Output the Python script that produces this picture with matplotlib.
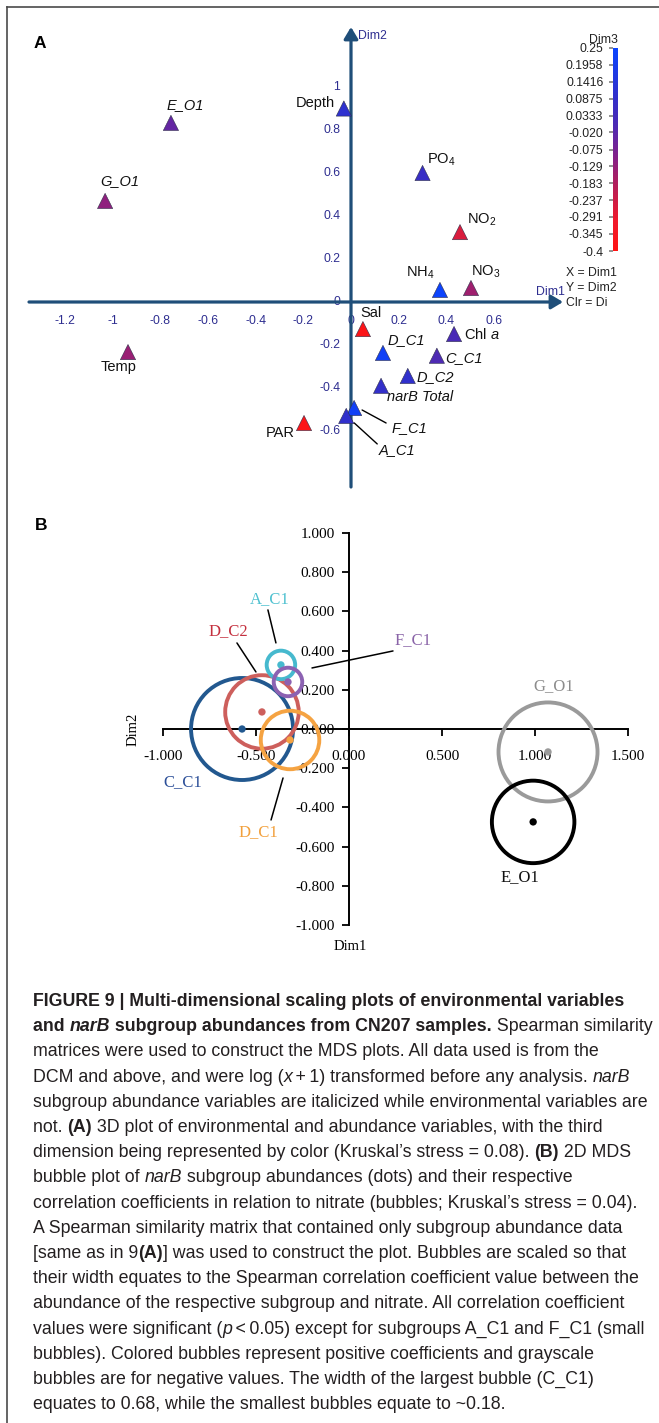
import numpy as np
import matplotlib.pyplot as plt
import matplotlib.font_manager as fm
from matplotlib.colors import LinearSegmentedColormap, Normalize
from matplotlib.cm import ScalarMappable
from matplotlib.lines import Line2D
from matplotlib.transforms import offset_copy

# ---------------- data ----------------
# (A) 3D MDS: environmental variables and narB subgroups
a_labels = ['E_O1', 'G_O1', 'Depth', 'PO$_4$', 'NO$_2$', 'NH$_4$', 'NO$_3$', 'Sal', 'Chl $a$',
            'D_C1', 'C_C1', 'D_C2', 'narB Total', 'F_C1', 'A_C1', 'Temp', 'PAR']
a_italic = [True, True, False, False, False, False, False, False, False,
            True, True, True, True, True, True, False, False]
a_dim1 = [-0.755, -1.031, -0.030, 0.300, 0.457, 0.373, 0.503, 0.050, 0.432,
          0.134, 0.360, 0.238, 0.126, 0.013, -0.020, -0.935, -0.197]
a_dim2 = [0.833, 0.470, 0.900, 0.600, 0.325, 0.056, 0.065, -0.126, -0.149,
          -0.237, -0.250, -0.344, -0.390, -0.493, -0.530, -0.233, -0.563]
a_dim3 = [-0.04, -0.12, 0.11, 0.07, -0.26, 0.24, -0.15, -0.38, 0.01,
          0.22, 0.00, 0.10, 0.09, 0.22, 0.10, -0.14, -0.38]

a_xticks = [-1.2, -1.0, -0.8, -0.6, -0.4, -0.2, 0.0, 0.2, 0.4, 0.6]
a_xticklabels = ['-1.2', '-1', '-0.8', '-0.6', '-0.4', '-0.2', '0', '0.2', '0.4', '0.6']
a_yticks = [-0.6, -0.4, -0.2, 0.0, 0.2, 0.4, 0.6, 0.8, 1.0]
a_yticklabels = ['-0.6', '-0.4', '-0.2', '0', '0.2', '0.4', '0.6', '0.8', '1']

cb_ticks = [0.25, 0.1958, 0.1416, 0.0875, 0.0333, -0.020, -0.075, -0.129,
            -0.183, -0.237, -0.291, -0.345, -0.4]
cb_ticklabels = ['0.25', '0.1958', '0.1416', '0.0875', '0.0333', '-0.020', '-0.075',
                 '-0.129', '-0.183', '-0.237', '-0.291', '-0.345', '-0.4']

# (B) 2D MDS bubble plot, bubble width = Spearman r with nitrate
b_labels = ['C_C1', 'D_C2', 'D_C1', 'A_C1', 'F_C1', 'G_O1', 'E_O1']
b_dim1 = [-0.575, -0.468, -0.317, -0.366, -0.328, 1.070, 0.990]
b_dim2 = [0.000, 0.087, -0.056, 0.327, 0.240, -0.117, -0.474]
b_coef = [0.68, 0.49, 0.39, 0.19, 0.19, -0.66, -0.55]

b_xticks = [-1.0, -0.5, 0.0, 0.5, 1.0, 1.5]
b_xticklabels = ['-1.000', '-0.500', '0.000', '0.500', '1.000', '1.500']
b_yticks = [-1.0, -0.8, -0.6, -0.4, -0.2, 0.0, 0.2, 0.4, 0.6, 0.8, 1.0]
b_yticklabels = ['-1.000', '-0.800', '-0.600', '-0.400', '-0.200', '0.000',
                 '0.200', '0.400', '0.600', '0.800', '1.000']

caption = [
    [("FIGURE 9 | Multi-dimensional scaling plots of environmental variables", 'b')],
    [("and ", 'b'), ("narB", 'bi'), (" subgroup abundances from CN207 samples.", 'b'),
     (" Spearman similarity", 'r')],
    [("matrices were used to construct the MDS plots. All data used is from the", 'r')],
    [("DCM and above, and were log (", 'r'), ("x", 'i'),
     ("\u2009+\u20091) transformed before any analysis. ", 'r'), ("narB", 'i')],
    [("subgroup abundance variables are italicized while environmental variables are", 'r')],
    [("not. ", 'r'), ("(A)", 'b'), (" 3D plot of environmental and abundance variables, with the third", 'r')],
    [("dimension being represented by color (Kruskal\u2019s stress = 0.08). ", 'r'), ("(B)", 'b'),
     (" 2D MDS", 'r')],
    [("bubble plot of ", 'r'), ("narB", 'i'), (" subgroup abundances (dots) and their respective", 'r')],
    [("correlation coefficients in relation to nitrate (bubbles; Kruskal\u2019s stress = 0.04).", 'r')],
    [("A Spearman similarity matrix that contained only subgroup abundance data", 'r')],
    [("[same as in 9", 'r'), ("(A)", 'b'), ("] was used to construct the plot. Bubbles are scaled so that", 'r')],
    [("their width equates to the Spearman correlation coefficient value between the", 'r')],
    [("abundance of the respective subgroup and nitrate. All correlation coefficient", 'r')],
    [("values were significant (", 'r'), ("p", 'i'),
     ("\u2009<\u20090.05) except for subgroups A_C1 and F_C1 (small", 'r')],
    [("bubbles). Colored bubbles represent positive coefficients and grayscale", 'r')],
    [("bubbles are for negative values. The width of the largest bubble (C_C1)", 'r')],
    [("equates to 0.68, while the smallest bubbles equate to ~0.18.", 'r')],
]

# ---------------- figure ----------------
W, H = 659, 1423
plt.rcParams['font.family'] = ['Liberation Sans', 'DejaVu Sans']
plt.rcParams['mathtext.fontset'] = 'custom'
plt.rcParams['mathtext.rm'] = 'Liberation Sans'
plt.rcParams['mathtext.it'] = 'Liberation Sans:italic'
plt.rcParams['mathtext.bf'] = 'Liberation Sans:bold'

fig = plt.figure(figsize=(W / 100, H / 100), dpi=100)
fig.patch.set_facecolor('white')


def px_axes(x0, y0, x1, y1):
    return fig.add_axes([x0 / W, 1 - y1 / H, (x1 - x0) / W, (y1 - y0) / H])


def leader(ax, x, y, p0, p1, color='black', lw=1.0):
    # straight line between two pixel offsets from a data point
    t0 = offset_copy(ax.transData, x=p0[0], y=-p0[1], units='dots')
    t1 = offset_copy(ax.transData, x=p1[0], y=-p1[1], units='dots')
    ax.annotate('', xy=(x, y), xycoords=t1, xytext=(x, y), textcoords=t0,
                arrowprops=dict(arrowstyle='-', color=color, lw=lw, shrinkA=0, shrinkB=0))


# outer frame
frame_kw = dict(color='#4a4a4a', lw=1.2, transform=fig.transFigure)
fig.add_artist(Line2D([7 / W, 7 / W], [0, 1 - 7 / H], **frame_kw))
fig.add_artist(Line2D([7 / W, 1], [1 - 7 / H, 1 - 7 / H], **frame_kw))

fig.text(40 / W, 1 - 43 / H, 'A', fontsize=12.5, weight='bold', ha='center', va='center')
fig.text(41 / W, 1 - 526 / H, 'B', fontsize=12.5, weight='bold', ha='center', va='center')

# ---------------- panel A ----------------
axA = px_axes(20, 20, 652, 495)
sx, sy = 238.5, 215.0          # pixels per data unit
ox, oy = 351, 302               # pixel position of the origin
axA.set_xlim((20 - ox) / sx, (652 - ox) / sx)
axA.set_ylim((oy - 495) / sy, (oy - 20) / sy)
axA.axis('off')

dim3_cmap = LinearSegmentedColormap.from_list(
    'dim3', [(0.0, '#ff1414'), (0.15, '#f01a2c'), (0.31, '#b81e55'),
             (0.46, '#852088'), (0.62, '#4c2ab4'), (0.77, '#3030cc'), (1.0, '#0a44ff')])
dim3_norm = Normalize(-0.4, 0.25)

axis_col = '#1f4e79'
tick_col = '#2e2e90'
arrow = dict(arrowstyle='-|>,head_length=0.5,head_width=0.3', color=axis_col, lw=2.3,
             mutation_scale=14, shrinkA=0, shrinkB=0)
axA.annotate('', xy=((563 - ox) / sx, 0), xytext=((29 - ox) / sx, 0), arrowprops=arrow, zorder=2)
axA.annotate('', xy=(0, (oy - 27) / sy), xytext=(0, (oy - 487) / sy), arrowprops=arrow, zorder=2)

for v, lab in zip(a_xticks, a_xticklabels):
    axA.annotate(lab, xy=(v, 0), xytext=(0, -19), textcoords='offset pixels',
                 ha='center', va='center', fontsize=8.8, color=tick_col, zorder=1)
for v, lab in zip(a_yticks, a_yticklabels):
    axA.annotate(lab, xy=(0, v), xytext=(-11, 0), textcoords='offset pixels',
                 ha='right', va='center', fontsize=8.8, color=tick_col, zorder=1)

axA.annotate('Dim2', xy=(0, (oy - 27) / sy), xytext=(7, -9), textcoords='offset pixels',
             ha='left', va='center', fontsize=8.8, color=tick_col)
axA.annotate('Dim1', xy=((563 - ox) / sx, 0), xytext=(-27, 10), textcoords='offset pixels',
             ha='left', va='center', fontsize=8.8, color=tick_col)

axA.scatter(a_dim1, a_dim2, c=a_dim3, cmap=dim3_cmap, norm=dim3_norm, marker='^', s=120,
            edgecolors='#30304a', linewidths=0.4, zorder=4)

a_text_off = [(14, -18), (15, -20), (-9, -5), (4, -13), (7, -12), (-20, -17), (15, -16),
              (8, -16), (10, 0), (5, -13), (8, 2), (9, 1), (6, 11), (37, 20), (32, 34),
              (-9, 15), (-9, 10)]
a_ha = ['center', 'center', 'right', 'left', 'left', 'center', 'center', 'center', 'left',
        'left', 'left', 'left', 'left', 'left', 'left', 'center', 'right']
for i, lab in enumerate(a_labels):
    dx, dy = a_text_off[i]
    axA.annotate(lab, xy=(a_dim1[i], a_dim2[i]), xytext=(dx, -dy), textcoords='offset pixels',
                 ha=a_ha[i], va='center', fontsize=10.5, color='#111111',
                 style='italic' if a_italic[i] else 'normal', zorder=5)

i_f, i_a = a_labels.index('F_C1'), a_labels.index('A_C1')
leader(axA, a_dim1[i_f], a_dim2[i_f], (8, 2), (32, 15))
leader(axA, a_dim1[i_a], a_dim2[i_a], (8, 7), (31, 28))

fig.text(566 / W, 1 - 273 / H, 'X = Dim1', fontsize=8.8, va='center', color='#222222')
fig.text(566 / W, 1 - 288 / H, 'Y = Dim2', fontsize=8.8, va='center', color='#222222')
fig.text(566 / W, 1 - 303 / H, 'Clr = Di', fontsize=8.8, va='center', color='#222222')

# Dim3 colour scale
cax = px_axes(613, 48, 618, 251)
cb = fig.colorbar(ScalarMappable(norm=dim3_norm, cmap=dim3_cmap), cax=cax, ticks=cb_ticks)
cb.outline.set_visible(False)
cax.yaxis.set_ticks_position('left')
cb.ax.set_yticklabels(cb_ticklabels)
cax.tick_params(axis='y', length=3, width=1.3, color='#8a8a8a', pad=4,
                labelsize=8.8, labelcolor='#222222')
fig.text(603 / W, 1 - 40 / H, 'Dim3', fontsize=8.8, ha='center', va='center', color='#222222')

# ---------------- panel B ----------------
serif = ['Liberation Serif', 'DejaVu Serif']
axB = px_axes(100, 515, 650, 960)
bx, by = 186.0, 196.0
bo_x, bo_y = 349, 729
axB.set_xlim((100 - bo_x) / bx, (650 - bo_x) / bx)
axB.set_ylim((bo_y - 960) / by, (bo_y - 515) / by)
axB.set_facecolor('none')
for side in ('top', 'right'):
    axB.spines[side].set_visible(False)
axB.spines['left'].set_position(('data', 0))
axB.spines['bottom'].set_position(('data', 0))
axB.spines['left'].set_bounds(-1, 1)
axB.spines['bottom'].set_bounds(-1, 1.5)
for side in ('left', 'bottom'):
    axB.spines[side].set_linewidth(1.4)
axB.set_xticks(b_xticks)
axB.set_xticklabels(b_xticklabels, family=serif, fontsize=11)
axB.set_yticks(b_yticks)
axB.set_yticklabels(b_yticklabels, family=serif, fontsize=11)
axB.tick_params(axis='x', direction='out', length=5, width=1.3, pad=10, color='black')
axB.tick_params(axis='y', direction='out', length=5, width=1.3, pad=5, color='black')

b_colors = ['#22588f', '#cd5f5c', '#f5a342', '#46b9ce', '#8c62b2', '#9a9a9a', '#000000']
b_text_colors = ['#2c4f98', '#c4303e', '#f2a03c', '#4fc1d0', '#8a64a8', '#8c8c8c', '#111111']
px_per_r = 150.0  # bubble diameter in pixels per unit of correlation
for i in range(len(b_labels)):
    d_pt = abs(b_coef[i]) * px_per_r * 0.72
    axB.scatter(b_dim1[i], b_dim2[i], s=d_pt ** 2, facecolors='none',
                edgecolors=b_colors[i], linewidths=2.8, zorder=3 + i)
    axB.scatter(b_dim1[i], b_dim2[i], s=28, color=b_colors[i], edgecolors='none', zorder=3 + i)

b_text_off = [(-59, 53), (-34, -81), (-32, 92), (-11, -66), (125, -42), (6, -66), (-13, 55)]
for i, lab in enumerate(b_labels):
    dx, dy = b_text_off[i]
    axB.annotate(lab, xy=(b_dim1[i], b_dim2[i]), xytext=(dx, -dy), textcoords='offset pixels',
                 ha='center', va='center', fontsize=12, family=serif, color=b_text_colors[i])

b_leaders = {'A_C1': ((-13, -55), (-5, -22)), 'D_C2': ((-25, -69), (-6, -40)),
             'F_C1': ((105, -31), (24, -14)), 'D_C1': ((-7, 38), (-19, 80))}
for lab, (p0, p1) in b_leaders.items():
    i = b_labels.index(lab)
    leader(axB, b_dim1[i], b_dim2[i], p0, p1, lw=1.1)

fig.text(133 / W, 1 - 729 / H, 'Dim2', rotation=90, ha='center', va='center',
         family=serif, fontsize=10.5)
fig.text(350 / W, 1 - 947 / H, 'Dim1', ha='center', va='center', family=serif, fontsize=10.5)

# ---------------- caption ----------------
available = {f.name for f in fm.fontManager.ttflist}
cap_font = 'Liberation Sans Narrow' if 'Liberation Sans Narrow' in available else 'Liberation Sans'
cap_family = [cap_font, 'DejaVu Sans']
seg_style = {'r': dict(weight='normal', style='normal'),
             'b': dict(weight='bold', style='normal'),
             'i': dict(weight='normal', style='italic'),
             'bi': dict(weight='bold', style='italic')}
renderer = fig.canvas.get_renderer()


def text_width(s, size, st):
    # width including trailing spaces: measure against a bar glyph
    t1 = fig.text(0, 0, s + '|', fontsize=size, family=cap_family, **seg_style[st])
    t2 = fig.text(0, 0, '|', fontsize=size, family=cap_family, **seg_style[st])
    w = t1.get_window_extent(renderer).width - t2.get_window_extent(renderer).width
    t1.remove()
    t2.remove()
    return w


# size the caption so its longest line spans the text block
widest = max(sum(text_width(s, 10, st) for s, st in line) for line in caption)
cap_size = 10 * 620 / widest
cap_x0 = 33
cap_y0 = 1006
cap_lead = 25.2
for k, line in enumerate(caption):
    x = cap_x0
    yb = cap_y0 + k * cap_lead
    for s, st in line:
        fig.text(x / W, 1 - yb / H, s, fontsize=cap_size, family=cap_family,
                 va='baseline', ha='left', color='#231f20', **seg_style[st])
        x += text_width(s, cap_size, st)

fig.savefig('out.png', dpi=100)
